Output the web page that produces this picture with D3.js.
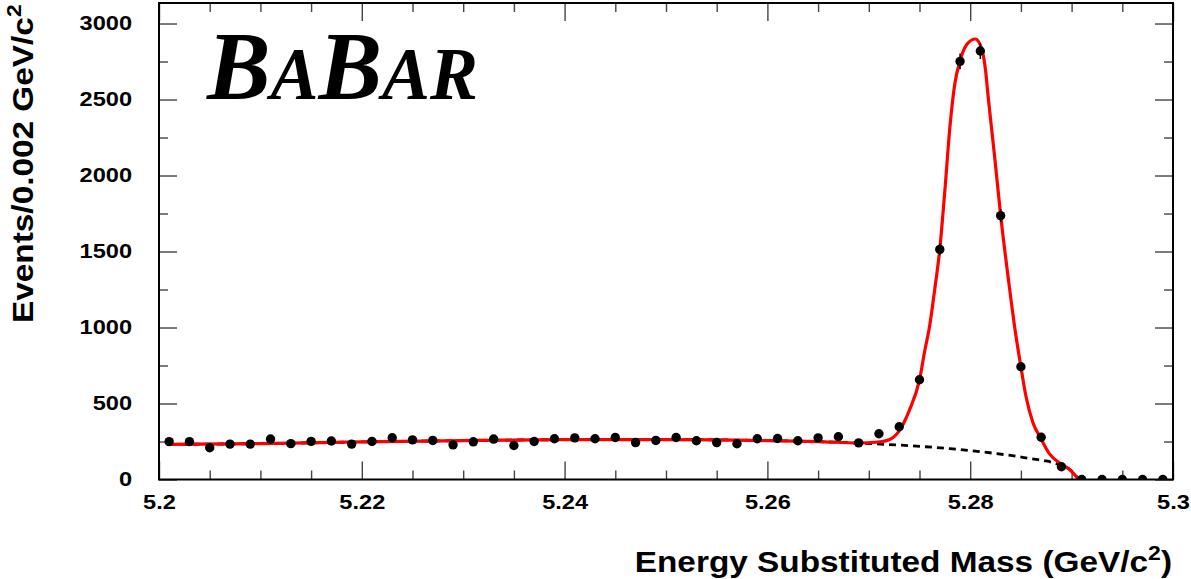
<!DOCTYPE html>
<html>
<head>
<meta charset="utf-8">
<script src="https://cdn.jsdelivr.net/npm/d3@7"></script>
<style>
  html, body { margin: 0; padding: 0; background: #fff; }
  svg { display: block; }
  text { font-family: "Liberation Sans", Arial, Helvetica, sans-serif; font-weight: bold; fill: #000; }
</style>
</head>
<body>
<svg id="chart" width="1191" height="579"></svg>
<script>
// mES histogram: bin centres (GeV/c^2) and events per 2 MeV bin
const binCentres = [
  5.201, 5.203, 5.205, 5.207, 5.209, 5.211, 5.213, 5.215, 5.217, 5.219,
  5.221, 5.223, 5.225, 5.227, 5.229, 5.231, 5.233, 5.235, 5.237, 5.239,
  5.241, 5.243, 5.245, 5.247, 5.249, 5.251, 5.253, 5.255, 5.257, 5.259,
  5.261, 5.263, 5.265, 5.267, 5.269, 5.271, 5.273, 5.275, 5.277, 5.279,
  5.281, 5.283, 5.285, 5.287, 5.289, 5.291, 5.293, 5.295, 5.297, 5.299
];
const binCounts = [
  249, 249, 209, 233, 233, 266, 236, 251, 253, 233,
  251, 275, 261, 257, 228, 248, 266, 224, 250, 268,
  274, 268, 276, 243, 257, 276, 255, 243, 235, 268,
  270, 255, 274, 281, 241, 301, 347, 656, 1514, 2751,
  2819, 1736, 742, 278, 84, 0, 0, 0, 0, 0
];

// Total fit, signal peak plus combinatorial background (starts at the first bin centre)
const fitMass = [
  5.201, 5.210, 5.220, 5.230, 5.240, 5.250, 5.255, 5.260, 5.265, 5.269,
  5.2707, 5.2720, 5.2730, 5.2740, 5.2750, 5.2755, 5.2760, 5.2765, 5.2770, 5.2775,
  5.2780, 5.2785, 5.2790, 5.2797, 5.2805, 5.2811, 5.2815, 5.2818, 5.2824, 5.2830,
  5.2838, 5.2845, 5.2850, 5.2855, 5.2862, 5.2869, 5.2878, 5.2890, 5.2898, 5.2907
];
const fitEvents = [
  231, 236, 247, 256, 262, 263, 261, 256, 249, 240,
  245, 262, 320, 455, 655, 840, 1010, 1250, 1515, 1900,
  2320, 2610, 2755, 2865, 2898, 2840, 2700, 2500, 2130, 1740,
  1300, 950, 742, 548, 372, 278, 170, 100, 66, 0
];

// Background-only component (ARGUS shape, vanishing at the kinematic endpoint)
const bkgMass = [
  5.201, 5.210, 5.220, 5.230, 5.240, 5.250, 5.255, 5.260, 5.265, 5.269,
  5.272, 5.275, 5.278, 5.281, 5.284, 5.286, 5.2875, 5.289, 5.290, 5.2907
];
const bkgEvents = [
  231, 236, 247, 256, 262, 263, 261, 256, 249, 240,
  230, 218, 203, 183, 158, 137, 122, 92, 56, 0
];

// Axis ticks
const xMajorTicks = [5.2, 5.22, 5.24, 5.26, 5.28, 5.3];
const xMinorTicks = [5.205, 5.21, 5.215, 5.225, 5.23, 5.235, 5.245, 5.25, 5.255,
                     5.265, 5.27, 5.275, 5.285, 5.29, 5.295];
const yMajorTicks = [0, 500, 1000, 1500, 2000, 2500, 3000];
const yMinorTicks = [250, 750, 1250, 1750, 2250, 2750];

const svg = d3.select("#chart");
const frame = { left: 159, right: 1173, top: 3, bottom: 479.5 };

const x = d3.scaleLinear().domain([5.2, 5.3]).range([frame.left, frame.right]);
const y = d3.scaleLinear().domain([0, 3135]).range([frame.bottom, frame.top]);

const TICK_COLOR = "#444";
const LABEL_STRETCH = 1.18;

function styleAxis(g) {
  g.select(".domain").remove();
  g.selectAll(".tick line").attr("stroke", TICK_COLOR).attr("stroke-width", 1.4);
  g.selectAll(".tick text")
    .attr("fill", "#000")
    .style("font-size", "20px")
    .style("font-family", '"Liberation Sans", Arial, sans-serif')
    .style("font-weight", "bold")
    .each(function () {
      const w = this.getComputedTextLength();
      if (w > 0) d3.select(this).attr("textLength", w * LABEL_STRETCH).attr("lengthAdjust", "spacingAndGlyphs");
    });
}

// Bottom axis (labelled) with inward ticks
svg.append("g").attr("transform", `translate(0,${frame.bottom})`)
  .call(d3.axisBottom(x).tickValues(xMajorTicks).tickSize(-18).tickPadding(15).tickFormat(d3.format("")))
  .call(styleAxis);
svg.append("g").attr("transform", `translate(0,${frame.bottom})`)
  .call(d3.axisBottom(x).tickValues(xMinorTicks).tickSize(-9).tickFormat(""))
  .call(styleAxis);

// Top axis mirrors the ticks
svg.append("g").attr("transform", `translate(0,${frame.top})`)
  .call(d3.axisTop(x).tickValues(xMajorTicks).tickSize(-18).tickFormat(""))
  .call(styleAxis);
svg.append("g").attr("transform", `translate(0,${frame.top})`)
  .call(d3.axisTop(x).tickValues(xMinorTicks).tickSize(-9).tickFormat(""))
  .call(styleAxis);

// Left axis (labelled)
svg.append("g").attr("transform", `translate(${frame.left},0)`)
  .call(d3.axisLeft(y).tickValues(yMajorTicks).tickSize(-18).tickPadding(27).tickFormat(d3.format("d")))
  .call(styleAxis);
svg.append("g").attr("transform", `translate(${frame.left},0)`)
  .call(d3.axisLeft(y).tickValues(yMinorTicks).tickSize(-9).tickFormat(""))
  .call(styleAxis);

// Right axis mirrors the ticks
svg.append("g").attr("transform", `translate(${frame.right},0)`)
  .call(d3.axisRight(y).tickValues(yMajorTicks).tickSize(-18).tickFormat(""))
  .call(styleAxis);
svg.append("g").attr("transform", `translate(${frame.right},0)`)
  .call(d3.axisRight(y).tickValues(yMinorTicks).tickSize(-9).tickFormat(""))
  .call(styleAxis);

// Clip everything drawn inside the frame
svg.append("defs").append("clipPath").attr("id", "plot-clip")
  .append("rect")
  .attr("x", frame.left).attr("y", frame.top)
  .attr("width", frame.right - frame.left).attr("height", frame.bottom - frame.top);

const plot = svg.append("g").attr("clip-path", "url(#plot-clip)");

// Background component (dashed)
const bkgLine = d3.line().x((d, i) => x(bkgMass[i])).y(d => y(d)).curve(d3.curveMonotoneX);
plot.append("path")
  .attr("d", bkgLine(bkgEvents))
  .attr("fill", "none")
  .attr("stroke", "#000")
  .attr("stroke-width", 2.8)
  .attr("stroke-dasharray", "7,5");

// Total fit (red)
const fitLine = d3.line().x((d, i) => x(fitMass[i])).y(d => y(d)).curve(d3.curveMonotoneX);
plot.append("path")
  .attr("d", fitLine(fitEvents))
  .attr("fill", "none")
  .attr("stroke", "#ff0000")
  .attr("stroke-width", 3.2)
  .attr("stroke-linejoin", "round");

// Data: Poisson error bars and markers
const points = binCentres.map((m, i) => ({ m, n: binCounts[i] }));
plot.selectAll("line.err").data(points.filter(p => p.n > 0)).join("line")
  .attr("class", "err")
  .attr("x1", d => x(d.m)).attr("x2", d => x(d.m))
  .attr("y1", d => y(d.n - Math.sqrt(d.n))).attr("y2", d => y(d.n + Math.sqrt(d.n)))
  .attr("stroke", "#000").attr("stroke-width", 1.5);
plot.selectAll("circle.pt").data(points).join("circle")
  .attr("class", "pt")
  .attr("cx", d => x(d.m)).attr("cy", d => y(d.n))
  .attr("r", 4.7)
  .attr("fill", "#000");

// Frame
svg.append("rect")
  .attr("x", frame.left).attr("y", frame.top)
  .attr("width", frame.right - frame.left).attr("height", frame.bottom - frame.top)
  .attr("fill", "none").attr("stroke", "#000").attr("stroke-width", 2);

// Axis titles
const TITLE_STRETCH = 1.15;
const xTitle = svg.append("text")
  .attr("transform", `translate(1172,572) scale(${TITLE_STRETCH},1)`)
  .attr("text-anchor", "end")
  .style("font-size", "29px");
xTitle.append("tspan").text("Energy Substituted Mass (GeV/c");
xTitle.append("tspan").attr("dy", -12).style("font-size", "20px").text("2");
xTitle.append("tspan").attr("dy", 12).text(")");

const yTitle = svg.append("text")
  .attr("transform", `translate(33,323) rotate(-90) scale(${TITLE_STRETCH},1)`)
  .attr("text-anchor", "start")
  .style("font-size", "29px");
yTitle.append("tspan").text("Events/0.002 GeV/c");
yTitle.append("tspan").attr("dy", -12).style("font-size", "20px").text("2");

// Experiment logo
const logo = svg.append("text")
  .attr("x", 207).attr("y", 99)
  .attr("textLength", 271).attr("lengthAdjust", "spacingAndGlyphs")
  .style("font-family", '"Liberation Serif", "Times New Roman", serif')
  .style("font-style", "italic")
  .style("font-weight", "bold");
logo.append("tspan").style("font-size", "98px").text("B");
logo.append("tspan").style("font-size", "74px").text("A");
logo.append("tspan").style("font-size", "98px").text("B");
logo.append("tspan").style("font-size", "74px").text("A");
logo.append("tspan").style("font-size", "74px").text("R");
</script>
</body>
</html>
